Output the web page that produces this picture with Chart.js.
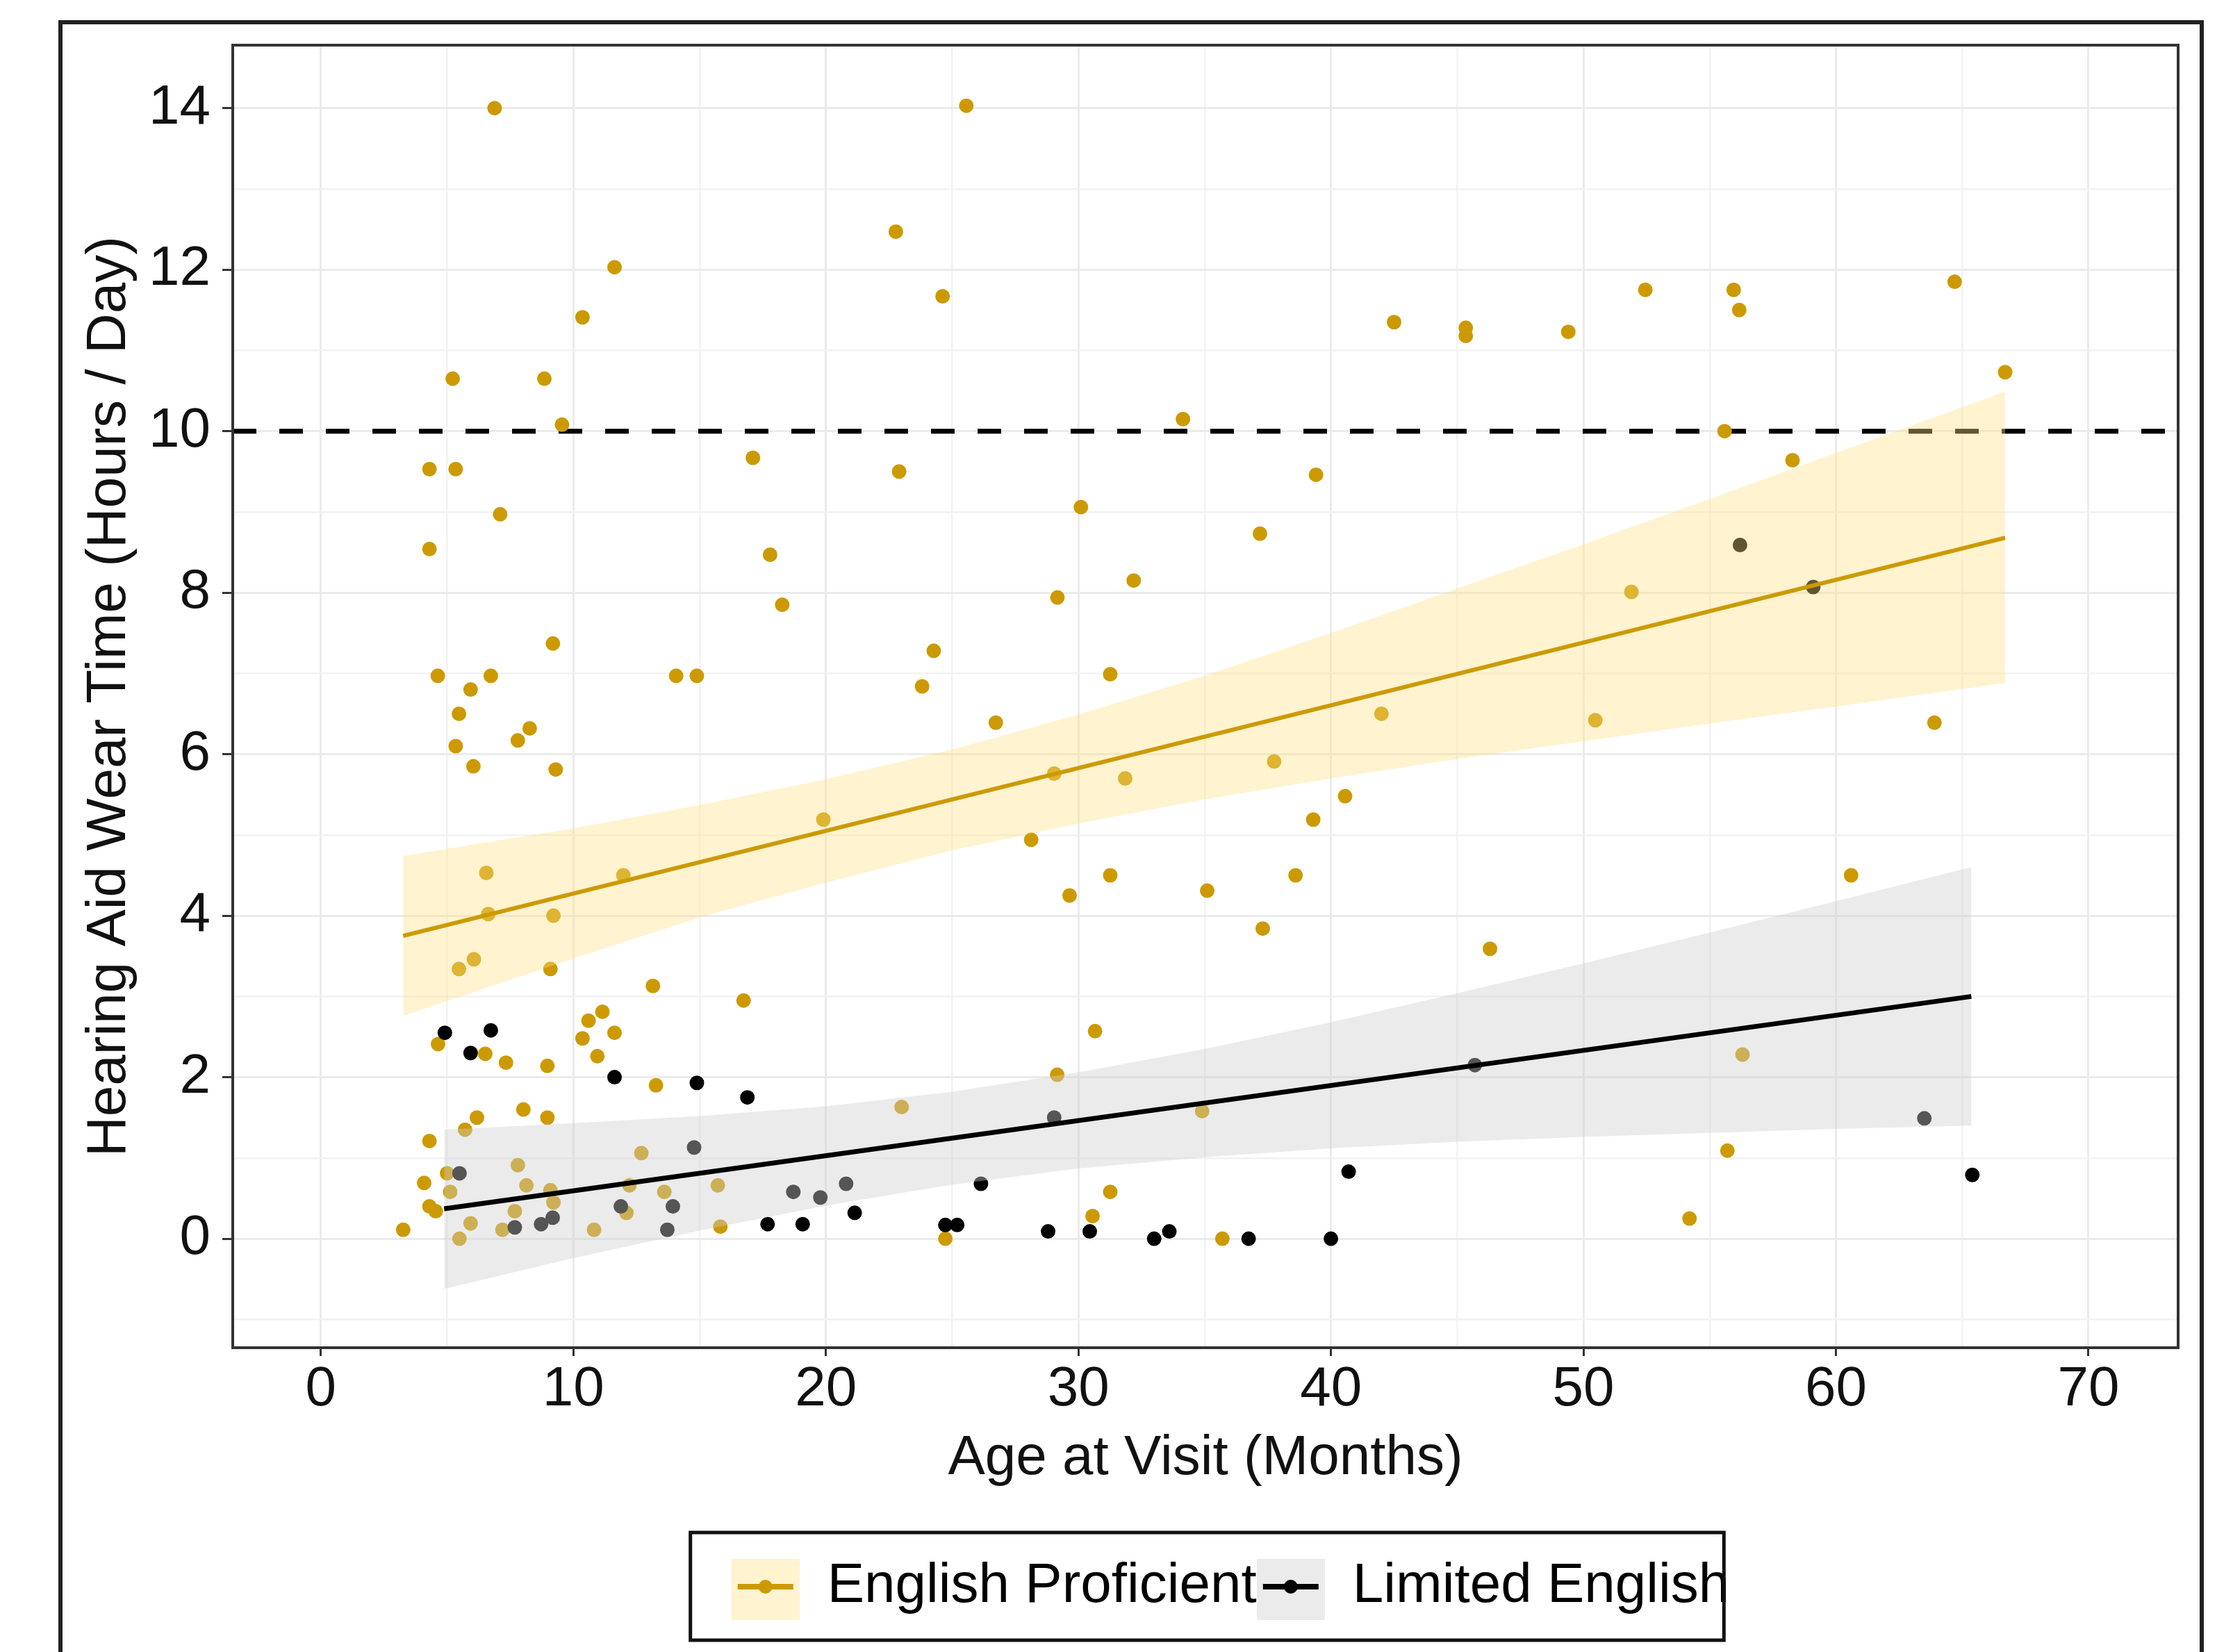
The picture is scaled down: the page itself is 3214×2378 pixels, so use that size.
<!DOCTYPE html>
<html>
<head>
<meta charset="utf-8">
<title>Hearing aid wear time by age</title>
<script src="https://cdn.jsdelivr.net/npm/chart.js@4.4.1/dist/chart.umd.min.js"></script>
<style>
  html, body { margin: 0; padding: 0; background: #fff; }
  canvas { display: block; }
</style>
</head>
<body>
<canvas id="wearChart" width="3214" height="2378"></canvas>
<script>
// ---- data ------------------------------------------------------------------
const xTicksMajor = [0, 10, 20, 30, 40, 50, 60, 70];
const xTicksMinor = [5, 15, 25, 35, 45, 55, 65];
const yTicksMajor = [0, 2, 4, 6, 8, 10, 12, 14];
const yTicksMinor = [-1, 1, 3, 5, 7, 9, 11, 13];
const xMin = -3.49, xMax = 73.55;
const yMin = -1.35, yMax = 14.78;
const targetHours = 10;

const seriesNames = ["English Proficient", "Limited English"];

// English proficient visits
const epAge = [
  9.21, 6.63, 5.47, 6.06, 9.09, 13.15, 16.74, 4.64, 6.51, 7.33, 8.97, 10.60, 11.15, 11.63,
  10.36, 10.95, 13.27, 8.02, 6.18, 8.97, 5.71, 4.30, 12.69, 7.80, 5.00, 4.09, 5.12, 8.14,
  9.09, 12.22, 13.60, 15.72, 4.30, 4.55, 7.68, 9.21, 12.10, 3.26, 5.93, 5.49, 7.19, 10.82,
  15.82, 6.88, 11.63, 10.36, 5.22, 8.85, 9.55, 4.30, 5.34, 7.10, 4.30, 17.11, 17.79, 18.27,
  9.19, 4.63, 6.73, 14.07, 14.89, 5.93, 5.47, 8.27, 7.80, 5.34, 6.04, 9.30, 6.55, 11.98,
  19.90, 25.56, 22.77, 24.62, 34.14, 22.90, 30.10, 39.41, 37.19, 32.19, 29.17, 24.27, 23.81,
  31.26, 26.73, 42.00, 29.04, 31.85, 37.75, 40.56, 39.30, 28.13, 31.26, 29.65, 35.10, 38.60,
  37.30, 30.66, 29.16, 23.00, 34.90, 24.73, 30.56, 31.26, 35.70, 42.50, 45.34, 45.34, 49.40,
  52.45, 55.95, 56.17, 64.70, 66.70, 55.59, 58.28, 51.90, 50.47, 63.90, 60.60, 46.30, 56.30,
  55.70, 54.20
];
const epHours = [
  4.00, 4.02, 3.34, 3.46, 3.34, 3.13, 2.95, 2.41, 2.29, 2.18, 2.14, 2.70, 2.81, 2.55,
  2.48, 2.26, 1.90, 1.60, 1.50, 1.50, 1.35, 1.21, 1.06, 0.91, 0.81, 0.69, 0.58, 0.66,
  0.60, 0.66, 0.58, 0.66, 0.40, 0.34, 0.34, 0.45, 0.32, 0.11, 0.19, 0.00, 0.11, 0.11,
  0.15, 14.00, 12.03, 11.41, 10.65, 10.65, 10.08, 9.53, 9.53, 8.97, 8.54, 9.67, 8.47, 7.85,
  7.37, 6.97, 6.97, 6.97, 6.97, 6.80, 6.50, 6.32, 6.17, 6.10, 5.85, 5.81, 4.53, 4.50,
  5.19, 14.03, 12.47, 11.67, 10.15, 9.50, 9.06, 9.46, 8.73, 8.15, 7.94, 7.28, 6.84,
  6.99, 6.39, 6.50, 5.76, 5.70, 5.91, 5.48, 5.19, 4.94, 4.50, 4.25, 4.31, 4.50,
  3.84, 2.57, 2.03, 1.63, 1.58, 0.00, 0.28, 0.58, 0.00, 11.35, 11.18, 11.28, 11.23,
  11.75, 11.75, 11.50, 11.85, 10.73, 10.00, 9.64, 8.01, 6.42, 6.39, 4.50, 3.59, 2.28,
  1.09, 0.25
];

// Limited English visits
const leAge = [
  4.91, 6.73, 5.93, 11.63, 14.89, 16.89, 14.78, 5.49, 18.71, 19.78, 11.88, 13.94,
  7.68, 8.72, 9.18, 13.72, 17.69, 19.08, 29.04, 20.80, 26.14, 21.14, 24.73, 25.20,
  28.80, 30.45, 33.00, 33.60, 36.74, 40.00, 40.70, 56.20, 59.10, 45.70, 63.50, 65.40
];
const leHours = [
  2.55, 2.58, 2.30, 2.00, 1.93, 1.75, 1.13, 0.81, 0.58, 0.51, 0.40, 0.40,
  0.14, 0.18, 0.26, 0.11, 0.18, 0.18, 1.50, 0.68, 0.68, 0.32, 0.17, 0.17,
  0.09, 0.09, 0.00, 0.09, 0.00, 0.00, 0.83, 8.59, 8.07, 2.15, 1.49, 0.79
];

// linear fits and their confidence ribbons (edges read every 5 months)
const epFitAge = [3.26, 66.70];
const epFitHours = [3.75, 8.68];
const epBandAge   = [3.26, 10, 15, 20, 25, 30, 35, 40, 45, 50, 55, 60, 66.70];
const epBandUpper = [4.74, 5.08, 5.37, 5.69, 6.06, 6.49, 6.97, 7.50, 8.05, 8.60, 9.16, 9.73, 10.49];
const epBandLower = [2.76, 3.47, 3.98, 4.41, 4.81, 5.14, 5.44, 5.70, 5.94, 6.16, 6.38, 6.59, 6.88];

const leFitAge = [4.88, 65.36];
const leFitHours = [0.37, 3.00];
const leBandAge   = [4.88, 10, 15, 20, 25, 30, 35, 40, 45, 50, 55, 60, 65.36];
const leBandUpper = [1.35, 1.43, 1.52, 1.64, 1.82, 2.06, 2.35, 2.68, 3.04, 3.41, 3.79, 4.18, 4.60];
const leBandLower = [-0.62, -0.24, 0.10, 0.41, 0.67, 0.87, 1.01, 1.12, 1.20, 1.26, 1.31, 1.36, 1.40];

// ---- styling ----------------------------------------------------------------
const FONT = "'Liberation Sans', Arial, sans-serif";
const TEXT = "#111111";
const GOLD = "#CC9A00";
const BLACK = "#000000";
const EP_BAND = "rgba(255, 224, 131, 0.38)";
const LE_BAND = "rgba(206, 206, 206, 0.41)";

const pts = (xs, ys) => xs.map((x, i) => ({ x, y: ys[i] }));
const isIn = (arr, v) => arr.some(a => Math.abs(a - v) < 1e-9);

// legend key: ribbon colour box with the line and a point over it
function makeKey(color, band) {
  const c = document.createElement("canvas");
  c.width = 98; c.height = 96;
  const g = c.getContext("2d");
  g.fillStyle = "#fff"; g.fillRect(0, 0, 98, 96);
  g.fillStyle = band; g.fillRect(0, 0, 98, 96);
  g.strokeStyle = color; g.lineWidth = 8;
  g.beginPath(); g.moveTo(9, 48); g.lineTo(89, 48); g.stroke();
  g.fillStyle = color;
  g.beginPath(); g.arc(49, 48, 10, 0, Math.PI * 2); g.fill();
  return c;
}
const legendKeys = [makeKey(GOLD, EP_BAND), makeKey(BLACK, LE_BAND)];

function axisGrid(minor) {
  return {
    color: ctx => (ctx.tick && isIn(minor, ctx.tick.value)) ? "#F2F2F2" : "#EBEBEB",
    lineWidth: ctx => (ctx.tick && isIn(minor, ctx.tick.value)) ? 2.5 : 3,
    tickColor: ctx => (ctx.tick && isIn(minor, ctx.tick.value)) ? "rgba(0,0,0,0)" : "#333333",
    tickWidth: 3,
    drawTicks: true
  };
}

const framePlugin = {
  id: "frames",
  beforeDraw(chart) {
    const c = chart.ctx;
    c.save();
    c.fillStyle = "#ffffff";
    c.fillRect(0, 0, chart.width, chart.height);
    c.restore();
  },
  afterLayout(chart) {
    // ggplot puts the keys a little right of the panel centre
    if (chart.legend) { chart.legend.left += 36; chart.legend.right += 36; }
  },
  afterDatasetsDraw(chart) {
    const a = chart.chartArea, c = chart.ctx;
    c.save();
    c.strokeStyle = "#333333"; c.lineWidth = 4;
    c.strokeRect(a.left, a.top, a.right - a.left, a.bottom - a.top);
    c.restore();
  },
  afterDraw(chart) {
    const c = chart.ctx;
    c.save();
    const hb = chart.legend && chart.legend.legendHitBoxes;
    if (hb && hb.length) {
      const cy = hb[0].top + hb[0].height / 2;
      const l = hb[0].left - 59;
      const last = hb[hb.length - 1];
      const r = last.left + last.width - 8;
      c.strokeStyle = "#111111"; c.lineWidth = 5;
      c.strokeRect(l, cy - 78, r - l, 155);
    }
    // outer figure frame (runs off the bottom of the image)
    c.strokeStyle = "#222222"; c.lineWidth = 6;
    c.beginPath();
    c.moveTo(87, chart.height + 10);
    c.lineTo(87, 32);
    c.lineTo(3169, 32);
    c.lineTo(3169, chart.height + 10);
    c.stroke();
    c.restore();
  }
};

const chart = new Chart(document.getElementById("wearChart"), {
  type: "scatter",
  data: {
    datasets: [
      { label: seriesNames[0], data: pts(epAge, epHours), backgroundColor: GOLD,
        pointRadius: 10.5, pointBorderWidth: 0, pointHoverRadius: 10.5, order: 9 },
      { label: seriesNames[1], data: pts(leAge, leHours), backgroundColor: BLACK,
        pointRadius: 10.5, pointBorderWidth: 0, pointHoverRadius: 10.5, order: 8 },
      { type: "line", label: "ep-upper", data: pts(epBandAge, epBandUpper), borderWidth: 0,
        pointRadius: 0, backgroundColor: EP_BAND, fill: "+1", tension: 0, order: 5 },
      { type: "line", label: "ep-lower", data: pts(epBandAge, epBandLower), borderWidth: 0,
        pointRadius: 0, fill: false, tension: 0, order: 5 },
      { type: "line", label: "le-upper", data: pts(leBandAge, leBandUpper), borderWidth: 0,
        pointRadius: 0, backgroundColor: LE_BAND, fill: "+1", tension: 0, order: 5 },
      { type: "line", label: "le-lower", data: pts(leBandAge, leBandLower), borderWidth: 0,
        pointRadius: 0, fill: false, tension: 0, order: 5 },
      { type: "line", label: "ep-fit", data: pts(epFitAge, epFitHours), borderColor: GOLD,
        borderWidth: 6, pointRadius: 0, fill: false, order: 1 },
      { type: "line", label: "le-fit", data: pts(leFitAge, leFitHours), borderColor: BLACK,
        borderWidth: 7, pointRadius: 0, fill: false, order: 1 },
      { type: "line", label: "target", data: pts([xMin, xMax], [targetHours, targetHours]),
        borderColor: BLACK, borderWidth: 7, borderDash: [34, 33], pointRadius: 0,
        fill: false, order: 10 }
    ]
  },
  options: {
    responsive: false,
    animation: false,
    devicePixelRatio: 1,
    layout: { autoPadding: false, padding: { top: 65, right: 79, bottom: 44, left: 0 } },
    plugins: {
      tooltip: { enabled: false },
      legend: {
        display: true,
        position: "bottom",
        fullSize: false,
        labels: {
          usePointStyle: true,
          pointStyleWidth: 98,
          padding: 0,
          color: "#000000",
          font: { family: FONT, size: 80 },
          generateLabels: ch => ch.data.datasets.slice(0, 2).map((ds, i) => ({
            text: ds.label, pointStyle: legendKeys[i], datasetIndex: i,
            fillStyle: "rgba(0,0,0,0)", strokeStyle: "rgba(0,0,0,0)", lineWidth: 0,
            hidden: false, fontColor: "#000000"
          }))
        }
      }
    },
    scales: {
      x: {
        type: "linear",
        min: xMin, max: xMax,
        afterBuildTicks: s => {
          s.ticks = xTicksMajor.concat(xTicksMinor).sort((a, b) => a - b).map(v => ({ value: v }));
        },
        afterFit: s => { s.height = 304; },
        ticks: {
          autoSkip: false, maxRotation: 0, padding: 1, color: TEXT,
          font: { family: FONT, size: 80 },
          callback: v => isIn(xTicksMajor, v) ? String(v) : ""
        },
        grid: Object.assign(axisGrid(xTicksMinor), { tickLength: 12 }),
        border: { display: false },
        title: {
          display: true, text: "Age at Visit (Months)", color: TEXT,
          font: { family: FONT, size: 80 }, padding: { top: 0, bottom: 96 }
        }
      },
      y: {
        type: "linear",
        min: yMin, max: yMax,
        afterBuildTicks: s => {
          s.ticks = yTicksMajor.concat(yTicksMinor).sort((a, b) => a - b).map(v => ({ value: v }));
        },
        afterFit: s => { s.width = 335; },
        ticks: {
          autoSkip: false, padding: 17, color: TEXT,
          font: { family: FONT, size: 80 },
          callback: v => isIn(yTicksMajor, v) ? String(v) : ""
        },
        grid: Object.assign(axisGrid(yTicksMinor), { tickLength: 15 }),
        border: { display: false },
        title: {
          display: true, text: "Hearing Aid Wear Time (Hours / Day)", color: TEXT,
          font: { family: FONT, size: 80 }, padding: { top: 110, bottom: 0 }
        }
      }
    }
  },
  plugins: [framePlugin]
});
</script>
</body>
</html>
